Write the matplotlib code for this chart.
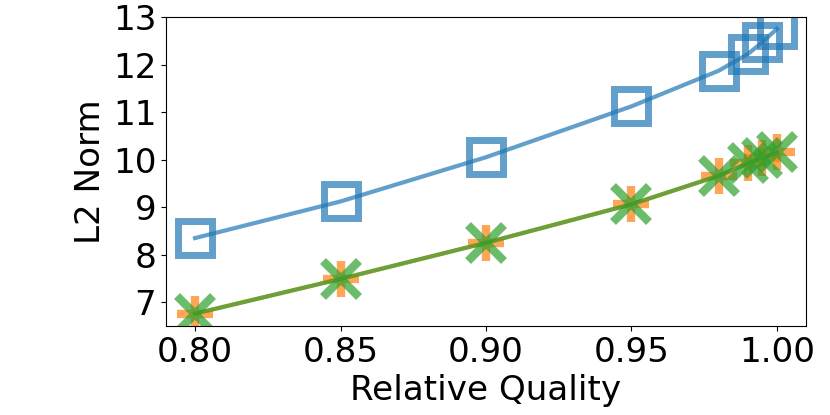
import matplotlib
matplotlib.use("Agg")
import matplotlib.pyplot as plt
import numpy as np

quality = [0.80, 0.85, 0.90, 0.95, 0.98, 0.99, 0.995, 1.00]
norm_blue = [8.35, 9.12, 10.05, 11.12, 11.87, 12.22, 12.47, 12.75]
norm_orange = [6.76, 7.49, 8.25, 9.06, 9.66, 9.92, 10.04, 10.15]
norm_green = [6.76, 7.49, 8.25, 9.06, 9.66, 9.92, 10.04, 10.15]
y_ticks = [7, 8, 9, 10, 11, 12, 13]

plt.rcParams['font.size'] = 24.6

fig = plt.figure(figsize=(8.3, 4.15), dpi=100)
ax = fig.add_axes([0.2, 0.2145, 0.771, 0.7445])

ax.plot(quality, norm_blue, color='C0', marker='s', markersize=24, markeredgewidth=5,
        markerfacecolor='none', lw=3, alpha=0.7)
ax.plot(quality, norm_orange, color='C1', marker='+', markersize=26, markeredgewidth=6,
        lw=3, alpha=0.7)
ax.plot(quality, norm_green, color='C2', marker='x', markersize=26, markeredgewidth=6,
        lw=3, alpha=0.7)

ax.set_ylim(6.5, 13)
ax.set_yticks(y_ticks)
ax.set_xticks([0.80, 0.85, 0.90, 0.95, 1.00])
ax.set_xlabel("Relative Quality")
ax.set_ylabel("L2 Norm")

fig.savefig("out.png", dpi=100)
